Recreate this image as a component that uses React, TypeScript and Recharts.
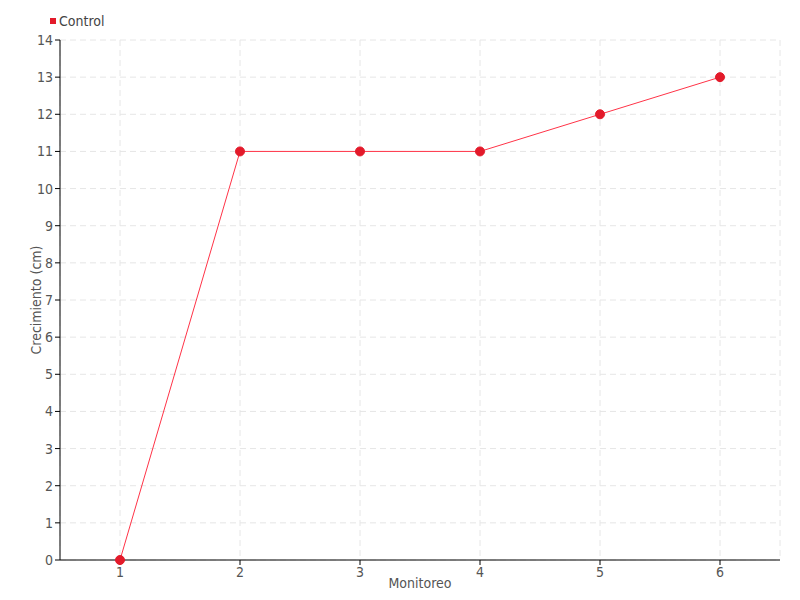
import React from 'react';
import { LineChart, Line, XAxis, YAxis, CartesianGrid } from 'recharts';

const categories = ['1', '2', '3', '4', '5', '6'];
const controlValues = [0, 11, 11, 11, 12, 13];
const yTicks = [0, 1, 2, 3, 4, 5, 6, 7, 8, 9, 10, 11, 12, 13, 14];
const seriesName = 'Control';

const data = categories.map((c, i) => ({ name: c, control: controlValues[i] }));

const FONT = "'DejaVu Sans Condensed', 'Liberation Sans Narrow', sans-serif";

export default function App() {
  return (
    <div style={{ position: 'absolute', left: 0, top: 0, width: 800, height: 600, background: '#fff' }}>
      <div style={{ position: 'absolute', left: 50, top: 13, display: 'flex', alignItems: 'center', fontFamily: FONT, fontSize: 14, color: '#444', zIndex: 2 }}>
        <span style={{ display: 'inline-block', width: 6, height: 6, background: '#e31a2a', marginRight: 3 }} />
        <span>{seriesName}</span>
      </div>
      <LineChart width={800} height={600} data={data} margin={{ top: 40, right: 20, bottom: 0, left: 0 }}>
        <CartesianGrid stroke="#e6e6e6" strokeDasharray="6 4" />
        <XAxis
          dataKey="name"
          padding={{ left: 60, right: 60 }}
          height={40}
          stroke="#000"
          tickSize={5}
          tick={{ fill: '#555', fontSize: 14, fontFamily: FONT }}
          label={{ value: 'Monitoreo', position: 'insideBottom', offset: 12, fill: '#555', fontSize: 14, fontFamily: FONT }}
        />
        <YAxis
          domain={[0, 14]}
          ticks={yTicks}
          interval={0}
          width={60}
          stroke="#000"
          tickSize={5}
          tick={{ fill: '#555', fontSize: 14, fontFamily: FONT }}
          label={{ value: 'Crecimiento (cm)', angle: -90, position: 'insideLeft', offset: 36, fill: '#555', fontSize: 14, fontFamily: FONT, style: { textAnchor: 'middle' } }}
        />
        <Line
          type="linear"
          dataKey="control"
          name={seriesName}
          stroke="#ff3347"
          strokeWidth={1}
          dot={{ r: 4.5, fill: '#e31a2a', stroke: '#e31a2a', strokeWidth: 1 }}
          isAnimationActive={false}
        />
      </LineChart>
    </div>
  );
}
